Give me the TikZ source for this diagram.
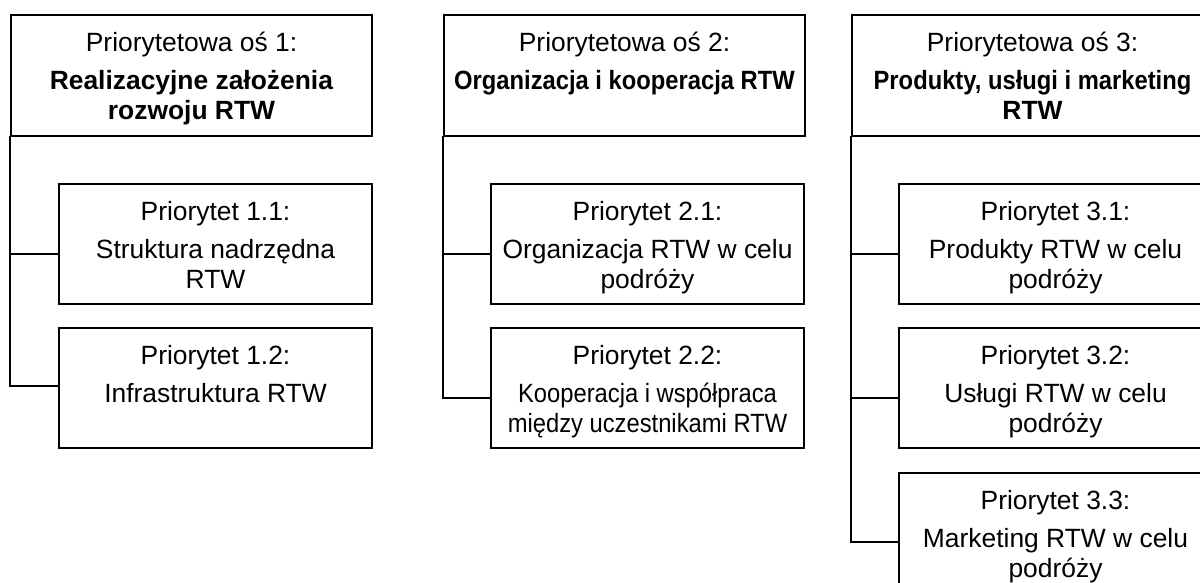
\documentclass[tikz,border=0pt]{standalone}
\usepackage{fontspec}
\setmainfont{Liberation Sans}
\usepackage{graphicx}
\usetikzlibrary{calc}
\newcommand{\cnd}[1]{\scalebox{0.9}[1]{#1}}
\newcommand{\lines}[1]{\fontsize{26.4}{30}\selectfont\begin{tabular}[t]{@{}c@{}}#1\end{tabular}}
\tikzset{
  mainbox/.style={draw, line width=2pt, rectangle, anchor=north west, inner sep=0pt,
    minimum width=361pt, minimum height=121pt},
  subbox/.style={draw, line width=2pt, rectangle, anchor=north west, inner sep=0pt,
    minimum width=313pt, minimum height=120pt},
  txt/.style={anchor=base, inner sep=0pt, text=black},
  conn/.style={line width=2pt, line cap=rect}
}
\begin{document}
\begin{tikzpicture}[x=1pt,y=-1pt]
\useasboundingbox (0,0) rectangle (1200,583);
\clip (0,0) rectangle (1200,583);
\fill[white] (0,0) rectangle (1200,583);

% column 1
\node[mainbox] (m1) at (10,14) {};
\node[subbox] (s11) at (58,183) {};
\node[subbox] (s12) at (58,327) {};
\node[txt] (t1) at ([yshift=-38pt]m1.north) {\lines{Priorytetowa oś 1:\\[8pt] \textbf{Realizacyjne założenia}\\ \textbf{rozwoju RTW}}};
\node[txt] (t11) at ([yshift=-37pt]s11.north) {\lines{Priorytet 1.1:\\[8pt] Struktura nadrzędna\\ RTW}};
\node[txt] (t12) at ([yshift=-37pt]s12.north) {\lines{Priorytet 1.2:\\[8pt] Infrastruktura RTW}};
\draw[conn] (m1.south west) |- ([yshift=-71pt]s11.north west);
\draw[conn] (m1.south west) |- ([yshift=-59pt]s12.north west);

% column 2
\node[mainbox] (m2) at (443,14) {};
\node[subbox] (s21) at (490,183) {};
\node[subbox] (s22) at (490,327) {};
\node[txt] (t2) at ([yshift=-38pt]m2.north) {\lines{Priorytetowa oś 2:\\[8pt] \cnd{\textbf{Organizacja i kooperacja RTW}}}};
\node[txt] (t21) at ([yshift=-37pt]s21.north) {\lines{Priorytet 2.1:\\[8pt] Organizacja RTW w celu\\ podróży}};
\node[txt] (t22) at ([yshift=-37pt]s22.north) {\lines{Priorytet 2.2:\\[8pt] \cnd{Kooperacja i współpraca}\\ \cnd{między uczestnikami RTW}}};
\draw[conn] (m2.south west) |- ([yshift=-71pt]s21.north west);
\draw[conn] (m2.south west) |- ([yshift=-71pt]s22.north west);

% column 3
\node[mainbox] (m3) at (851,14) {};
\node[subbox] (s31) at (898,183) {};
\node[subbox] (s32) at (898,327) {};
\node[subbox] (s33) at (898,472) {};
\node[txt] (t3) at ([yshift=-38pt]m3.north) {\lines{Priorytetowa oś 3:\\[8pt] \cnd{\textbf{Produkty, usługi i marketing}}\\ \textbf{RTW}}};
\node[txt] (t31) at ([yshift=-37pt]s31.north) {\lines{Priorytet 3.1:\\[8pt] Produkty RTW w celu\\ podróży}};
\node[txt] (t32) at ([yshift=-37pt]s32.north) {\lines{Priorytet 3.2:\\[8pt] Usługi RTW w celu\\ podróży}};
\node[txt] (t33) at ([yshift=-37pt]s33.north) {\lines{Priorytet 3.3:\\[8pt] Marketing RTW w celu\\ podróży}};
\draw[conn] (m3.south west) |- ([yshift=-71pt]s31.north west);
\draw[conn] (m3.south west) |- ([yshift=-71pt]s32.north west);
\draw[conn] (m3.south west) |- ([yshift=-70pt]s33.north west);
\end{tikzpicture}
\end{document}
